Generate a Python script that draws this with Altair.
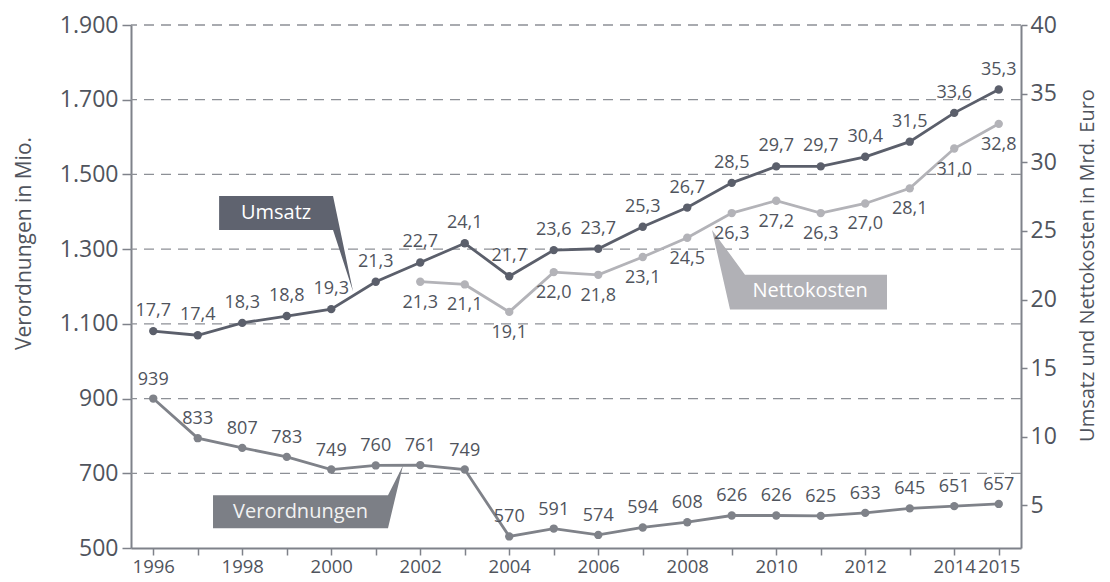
import altair as alt
import pandas as pd

# ---------------- data ----------------
years = list(range(1996, 2016))
umsatz = [17.7, 17.4, 18.3, 18.8, 19.3, 21.3, 22.7, 24.1, 21.7, 23.6,
          23.7, 25.3, 26.7, 28.5, 29.7, 29.7, 30.4, 31.5, 33.6, 35.3]
netto_years = list(range(2002, 2016))
nettokosten = [21.3, 21.1, 19.1, 22.0, 21.8, 23.1, 24.5, 26.3, 27.2, 26.3,
               27.0, 28.1, 31.0, 32.8]
verordnungen = [939, 833, 807, 783, 749, 760, 761, 749, 570, 591,
                574, 594, 608, 626, 626, 625, 633, 645, 651, 657]
left_ticks = [500, 700, 900, 1100, 1300, 1500, 1700, 1900]
right_ticks = [5, 10, 15, 20, 25, 30, 35, 40]

# callout anchors, given in data units of the scale they belong to
umsatz_call_x = [1997.48, 2000.04, 2000.49]
umsatz_call_top = [27.54, 27.54, 20.59]
umsatz_call_bot = [25.07, 25.07, 20.59]
umsatz_text_at = (1998.76, 26.30)

netto_call_x = [2008.556, 2008.961, 2009.298, 2012.489]
netto_call_top = [25.07, 23.30, 21.81, 21.81]
netto_call_bot = [25.07, 19.28, 19.28, 19.28]
netto_text_at = (2010.76, 20.59)

vo_call_x = [1997.343, 2001.275, 2001.612]
vo_call_top = [680.1, 680.1, 759.9]
vo_call_bot = [592.2, 592.2, 759.9]
vo_text_at = (1999.31, 636.2)

# ---------------- styles ----------------
FONT = "Open Sans"
C_UMS = "#5b5f6b"
C_NET = "#b3b3b8"
C_VO = "#7f8289"
C_AXIS = "#7f828a"
C_GRID = "#8d9096"
C_TEXT = "#50545d"

X_SCALE = alt.Scale(domain=[1995.5, 2015.5], nice=False, zero=False)
YL = alt.Scale(domain=[500, 1900], nice=False, zero=False)
YV = alt.Scale(domain=[539, 1939], nice=False, zero=False)
YR = alt.Scale(domain=[1.9, 40], nice=False, zero=False)

X_AXIS = alt.Axis(
    values=years,
    labelExpr="(datum.value % 2 == 0 || datum.value == 2015) ? toString(datum.value) : ''",
    title=None, grid=False, labelOverlap=False, labelFlush=False,
    tickSize=7, tickWidth=1.5, tickColor=C_AXIS, domainColor=C_AXIS, domainWidth=2,
    labelFont=FONT, labelFontSize=18.5, labelColor=C_TEXT, labelPadding=2,
)


def X(field):
    return alt.X(field, type="quantitative", scale=X_SCALE, axis=X_AXIS, title=None)


df_u = pd.DataFrame({"year": years, "v": umsatz})
df_n = pd.DataFrame({"year": netto_years, "v": nettokosten})
df_v = pd.DataFrame({"year": years, "v": verordnungen})
df_lt = pd.DataFrame({"v": left_ticks})

# gridlines + left axis
grid = alt.Chart(df_lt).transform_filter("datum.v > 500").mark_rule(
    color=C_GRID, strokeDash=[10, 7], strokeWidth=1.3
).encode(
    y=alt.Y("v:Q", scale=YL, axis=alt.Axis(
        orient="left", values=left_ticks,
        labelExpr="replace(format(datum.value, ','), ',', '.')",
        title="Verordnungen in Mio.", grid=False,
        domainColor=C_AXIS, domainWidth=2, tickColor=C_AXIS, tickWidth=1.5, tickSize=9,
        labelFont=FONT, labelFontSize=23, labelColor=C_TEXT, labelPadding=4,
        titleFont=FONT, titleFontSize=21, titleColor=C_TEXT, titleFontWeight="normal",
        titleAngle=270, titleX=-107, titleY=218, titleAlign="center", titleBaseline="middle",
    ))
)


def callout(xs, tops, bots, scale, color):
    d = pd.DataFrame({"x": xs, "top": tops, "bot": bots})
    return alt.Chart(d).mark_area(color=color, opacity=1, interpolate="linear").encode(
        x=X("x"), y=alt.Y("top:Q", scale=scale, axis=None), y2="bot:Q"
    )


def callout_text(label, at, scale, color="white"):
    d = pd.DataFrame({"x": [at[0]], "y": [at[1]], "t": [label]})
    return alt.Chart(d).mark_text(font=FONT, fontSize=20, color=color,
                                  align="center", baseline="middle").encode(
        x=X("x"), y=alt.Y("y:Q", scale=scale, axis=None), text="t:N"
    )


call_u = callout(umsatz_call_x, umsatz_call_top, umsatz_call_bot, YR, "#5f636f")
call_n = callout(netto_call_x, netto_call_top, netto_call_bot, YR, "#b1b1b6")
call_v = callout(vo_call_x, vo_call_top, vo_call_bot, YV, "#7c7f86")
txt_u = callout_text("Umsatz", umsatz_text_at, YR)
txt_n = callout_text("Nettokosten", netto_text_at, YR)
txt_v = callout_text("Verordnungen", vo_text_at, YV, "#f2f2f2")

right_axis = alt.Axis(
    orient="right", values=right_ticks, title="Umsatz und Nettokosten in Mrd. Euro",
    grid=False, domainColor=C_AXIS, domainWidth=2, tickColor=C_AXIS, tickWidth=1.5, tickSize=6,
    labelFont=FONT, labelFontSize=23, labelColor=C_TEXT, labelPadding=3,
    titleFont=FONT, titleFontSize=20, titleColor=C_TEXT, titleFontWeight="normal",
    titleAngle=270, titleX=66, titleY=240, titleAlign="center", titleBaseline="middle",
)


def series(df, scale, color, dy, fmt_expr, axis=None):
    base = alt.Chart(df).encode(x=X("year"))
    line = base.mark_line(color=color, strokeWidth=2.8).encode(
        y=alt.Y("v:Q", scale=scale, axis=axis))
    pts = base.mark_point(color=color, filled=True, size=70, opacity=1).encode(
        y=alt.Y("v:Q", scale=scale, axis=None))
    lab = base.transform_calculate(lab=fmt_expr).mark_text(
        font=FONT, fontSize=18, color=C_TEXT, dy=dy, align="center", baseline="middle"
    ).encode(y=alt.Y("v:Q", scale=scale, axis=None), text="lab:N")
    return [line, pts, lab]


dec = "replace(format(datum.v, '.1f'), '.', ',')"
s_u = series(df_u, YR, C_UMS, -20, dec, axis=right_axis)
s_n = series(df_n, YR, C_NET, 21, dec)
s_v = series(df_v, YV, C_VO, -19, "format(datum.v, 'd')")

chart = alt.layer(
    grid, call_u, call_n, call_v, txt_u, txt_n, txt_v,
    *s_v, *s_n, *s_u,
).resolve_scale(y="independent").properties(
    width=890, height=523,
    autosize=alt.AutoSizeParams(type="none"),
    padding={"left": 123, "top": 17, "right": 81, "bottom": 30},
    background="white",
).configure_view(stroke=None)

chart.save("out.html", embed_options={"renderer": "svg", "actions": False})
